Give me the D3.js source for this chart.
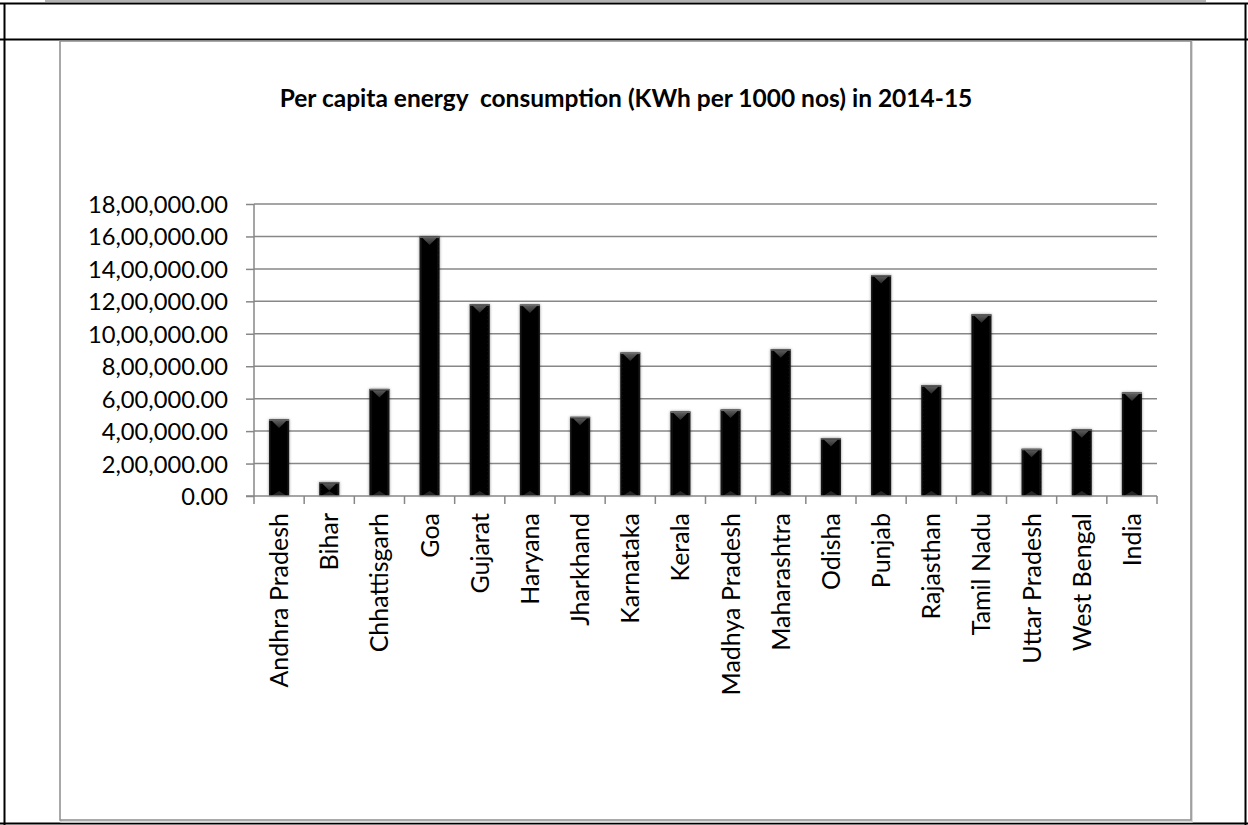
<!DOCTYPE html>
<html>
<head>
<meta charset="utf-8">
<script src="https://cdn.jsdelivr.net/npm/d3@7/dist/d3.min.js"></script>
<style>
  html, body { margin: 0; padding: 0; background: #fff; }
  svg { display: block; }
  text { font-family: Lato, "Open Sans", sans-serif; fill: #000; }
</style>
</head>
<body>
<svg id="chart" width="1248" height="825"></svg>
<script>
// Per capita energy consumption by state, 2014-15 (KWh per 1000 nos)
const states = [
  "Andhra Pradesh", "Bihar", "Chhattisgarh", "Goa", "Gujarat", "Haryana",
  "Jharkhand", "Karnataka", "Kerala", "Madhya Pradesh", "Maharashtra",
  "Odisha", "Punjab", "Rajasthan", "Tamil Nadu", "Uttar Pradesh",
  "West Bengal", "India"
];
const consumption = [
  472000, 86000, 660000, 1600000, 1182000, 1180000,
  488000, 884000, 521000, 533000, 905000,
  357000, 1362000, 683000, 1120000, 291000,
  412000, 638000
];
const yTicks = [0, 200000, 400000, 600000, 800000, 1000000,
                1200000, 1400000, 1600000, 1800000];
const chartTitle = "Per capita energy  consumption (KWh per 1000 nos) in 2014-15";

const svg = d3.select("#chart");
const W = 1248, H = 825;

// page frame around the chart (table cell borders)
const frame = svg.append("g");
frame.append("line").attr("x1", 45).attr("x2", 1206).attr("y1", 1).attr("y2", 1)
  .attr("stroke", "#9a9a9a").attr("stroke-width", 1.5);
[[0, 3.5, W, 3.5], [0, 39.5, W, 39.5], [0, 823.5, W, 823.5],
 [4.5, 3, 4.5, H], [1245.5, 3, 1245.5, H]].forEach(([x1, y1, x2, y2]) => {
  frame.append("line").attr("x1", x1).attr("y1", y1).attr("x2", x2).attr("y2", y2)
    .attr("stroke", "#000").attr("stroke-width", 2);
});

// filters and gradients for the bevelled bars
const defs = svg.append("defs");
const shadow = defs.append("filter").attr("id", "barShadow")
  .attr("x", "-50%").attr("y", "-10%").attr("width", "200%").attr("height", "120%");
shadow.append("feDropShadow").attr("dx", 0).attr("dy", 0)
  .attr("stdDeviation", 1.8).attr("flood-color", "#000").attr("flood-opacity", 0.45);

const sideGrad = defs.append("linearGradient").attr("id", "barSide")
  .attr("x1", "0").attr("x2", "1").attr("y1", "0").attr("y2", "0");
sideGrad.append("stop").attr("offset", "0").attr("stop-color", "#1c1c1c");
sideGrad.append("stop").attr("offset", "0.12").attr("stop-color", "#050505");
sideGrad.append("stop").attr("offset", "0.88").attr("stop-color", "#050505");
sideGrad.append("stop").attr("offset", "1").attr("stop-color", "#1c1c1c");

const topGrad = defs.append("linearGradient").attr("id", "barTop")
  .attr("x1", "0").attr("x2", "0").attr("y1", "0").attr("y2", "1");
topGrad.append("stop").attr("offset", "0").attr("stop-color", "#5a5a5a");
topGrad.append("stop").attr("offset", "1").attr("stop-color", "#2a2a2a");

// chart area box
svg.append("rect").attr("x", 61).attr("y", 42).attr("width", 1131).attr("height", 780)
  .attr("fill", "none").attr("stroke", "#d0d0d0").attr("stroke-width", 1.5);
svg.append("rect").attr("x", 60).attr("y", 41).attr("width", 1131).attr("height", 779)
  .attr("fill", "#fff").attr("stroke", "#8c8c8c").attr("stroke-width", 1.5);

// title
svg.append("text")
  .attr("x", 626).attr("y", 107)
  .attr("text-anchor", "middle")
  .style("font-weight", "bold").style("font-size", "24.5px")
  .style("white-space", "pre")
  .text(chartTitle);

// scales
const plotLeft = 254, plotRight = 1157, plotTop = 204, plotBottom = 496;
const y = d3.scaleLinear().domain([0, 1800000]).range([plotBottom, plotTop]);
const x = d3.scaleBand().domain(states).range([plotLeft, plotRight])
  .paddingInner(0.6).paddingOuter(0.3);
const xCell = d3.scaleBand().domain(states).range([plotLeft, plotRight]);

// lakh/crore digit grouping with two decimals
const indianFormat = v => {
  const whole = Math.round(v).toString();
  let out;
  if (whole.length <= 3) out = whole;
  else {
    const last3 = whole.slice(-3);
    let rest = whole.slice(0, -3);
    const parts = [];
    while (rest.length > 2) { parts.unshift(rest.slice(-2)); rest = rest.slice(0, -2); }
    if (rest.length) parts.unshift(rest);
    out = parts.join(",") + "," + last3;
  }
  return out + ".00";
};

const gridColor = "#878787";

// horizontal gridlines
svg.append("g").selectAll("line").data(yTicks.filter(d => d > 0)).join("line")
  .attr("x1", plotLeft).attr("x2", plotRight)
  .attr("y1", d => y(d)).attr("y2", d => y(d))
  .attr("stroke", gridColor).attr("stroke-width", 1.5);

// value axis
const yAxis = svg.append("g")
  .attr("transform", `translate(${plotLeft},0)`)
  .call(d3.axisLeft(y).tickValues(yTicks).tickFormat(indianFormat)
        .tickSize(8).tickPadding(18));
yAxis.select(".domain").remove();
yAxis.selectAll(".tick line").attr("stroke", gridColor).attr("stroke-width", 1.5);
yAxis.selectAll(".tick text")
  .style("font-size", "23.7px").style("font-family", "Lato, sans-serif")
  .attr("fill", "#000").attr("dy", "0.36em");

// bars
const bars = svg.append("g").selectAll("g").data(states).join("g");
bars.each(function (s, i) {
  const g = d3.select(this);
  const bx = x(s), bw = x.bandwidth();
  const top = y(consumption[i]), bottom = y(0);
  const h = bottom - top;
  g.append("rect").attr("x", bx).attr("y", top).attr("width", bw).attr("height", h)
    .attr("fill", "url(#barSide)").attr("filter", "url(#barShadow)");
  g.append("rect").attr("x", bx).attr("y", top).attr("width", bw).attr("height", 1.5)
    .attr("fill", "#6a6a6a");
  const tri = Math.min(7, h / 2);
  g.append("path")
    .attr("d", `M${bx + 3},${top + 1.5}L${bx + bw - 3},${top + 1.5}L${bx + bw / 2},${top + 1.5 + tri}Z`)
    .attr("fill", "url(#barTop)");
  g.append("path")
    .attr("d", `M${bx + 2},${bottom}L${bx + bw - 2},${bottom}L${bx + bw / 2},${bottom - Math.min(5, h / 3)}Z`)
    .attr("fill", "#262626");
});

// vertical axis line and category axis
svg.append("line").attr("x1", plotLeft).attr("x2", plotLeft)
  .attr("y1", plotTop).attr("y2", plotBottom + 8)
  .attr("stroke", gridColor).attr("stroke-width", 1.5);
svg.append("line").attr("x1", plotLeft - 8).attr("x2", plotRight)
  .attr("y1", plotBottom).attr("y2", plotBottom)
  .attr("stroke", gridColor).attr("stroke-width", 1.5);
const boundaries = states.map(s => xCell(s)).concat([plotRight]);
svg.append("g").selectAll("line").data(boundaries.slice(1)).join("line")
  .attr("x1", d => d).attr("x2", d => d)
  .attr("y1", plotBottom).attr("y2", plotBottom + 8)
  .attr("stroke", gridColor).attr("stroke-width", 1.5);

// rotated category labels
svg.append("g").selectAll("text").data(states).join("text")
  .attr("transform", s => `translate(${x(s) + x.bandwidth() / 2},${plotBottom + 17}) rotate(-90)`)
  .attr("text-anchor", "end")
  .attr("dy", "0.36em")
  .style("font-size", "25px")
  .text(s => s);
</script>
</body>
</html>
